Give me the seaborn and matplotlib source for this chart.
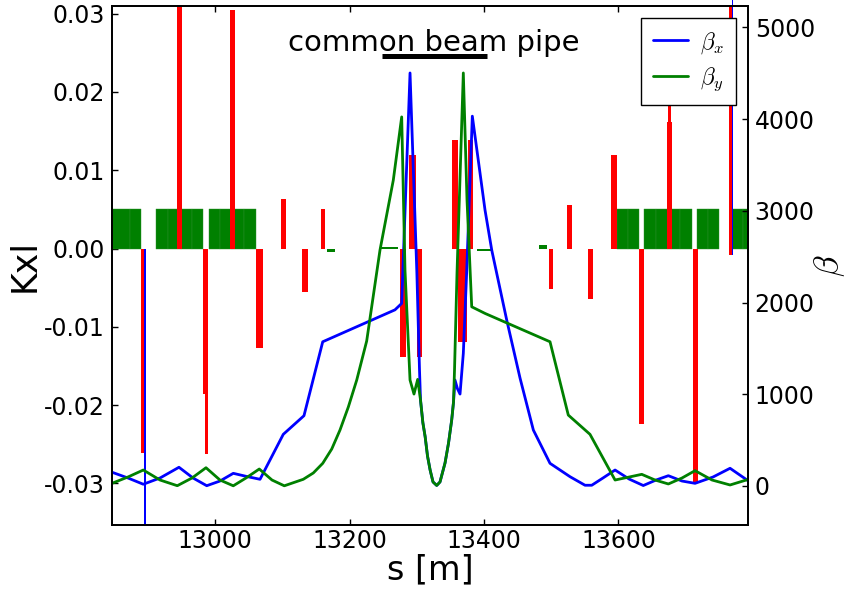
import matplotlib
matplotlib.use("Agg")
import matplotlib.pyplot as plt
from matplotlib.ticker import FormatStrFormatter
import seaborn as sns

# Quadrupole integrated strengths Kxl: centre s [m], length [m], value
quad_s = [12892.3, 12946.4, 12985.6, 12986.8, 13025.7, 13066.2, 13101.5, 13133.6,
          13160.4, 13279.5, 13293.9, 13304.0, 13356.4, 13368.0, 13379.9, 13499.4,
          13526.8, 13558.8, 13593.8, 13634.4, 13675.3, 13676.3, 13714.7, 13766.8,
          13766.8]
quad_len = [4.5, 7.4, 7.4, 4.9, 7.4, 10.0, 7.0, 8.0,
            6.0, 9.0, 11.0, 8.3, 9.0, 14.3, 8.3, 6.4,
            7.4, 7.4, 9.5, 6.5, 7.4, 5.2, 7.4, 6.0,
            5.0]
quad_kxl = [-0.0261, 0.0330, -0.0186, -0.0263, 0.0305, -0.0127, 0.0063, -0.0056,
            0.0051, -0.0139, 0.0120, -0.0139, 0.0139, -0.0120, 0.0139, -0.0052,
            0.0055, -0.0065, 0.0120, -0.0224, 0.0161, 0.0240, -0.0298, 0.0330,
            -0.0008]

# Arc dipoles (drawn as blocks of fixed height)
dip_start = [12838.0, 12873.7, 12911.5, 12930.5, 12949.6, 12965.9,
             12990.3, 13006.7, 13025.0, 13043.0,
             13598.4, 13614.7, 13638.5, 13656.0, 13674.0, 13692.0,
             13717.4, 13733.3, 13769.5, 13786.0]
dip_len = [35.7, 15.9, 19.0, 19.1, 16.3, 15.9,
           16.4, 18.3, 18.0, 18.2,
           16.3, 16.4, 17.5, 18.0, 18.0, 18.0,
           15.9, 16.4, 16.5, 16.5]
dip_height = 0.005

# Weak separation dipoles around the interaction region
sep_start = [13165.9, 13245.2, 13389.1, 13482.3]
sep_len = [12.4, 26.4, 22.3, 11.9]
sep_kxl = [-0.0004, 0.00025, -0.0003, 0.0004]

# Thin elements shown in blue
thin_s = [12895.5, 13770.2]
thin_bottom = [0.0, -0.0008]
thin_height = [-0.06, 0.0326]

# Horizontal beta function
bx_s = [12846.4, 12870.2, 12893.0, 12917.9, 12946.1, 12967.0, 12987.4, 13007.1,
        13026.9, 13047.3, 13066.7, 13101.3, 13132.1, 13160.0, 13267.5, 13277.5,
        13289.9, 13300.1, 13304.0, 13305.5, 13309.0, 13312.4, 13315.9, 13319.8,
        13324.1, 13329.6, 13334.5, 13342.0, 13347.2, 13351.9, 13354.6, 13356.8,
        13360.5, 13364.3, 13369.2, 13374.3, 13382.6, 13401.5, 13411.5, 13433.8,
        13453.6, 13473.4, 13498.2, 13528.0, 13550.3, 13560.3, 13577.0, 13595.0,
        13615.8, 13637.0, 13656.0, 13674.3, 13694.6, 13714.0, 13740.8, 13766.1,
        13792.4]
bx = [150, 87, 19, 87, 204, 87, 3, 54,
      138, 103, 73, 563, 766, 1572, 1920, 1990,
      4502, 2320, 1264, 937, 690, 537, 327, 174,
      44, 6, 44, 251, 468, 719, 915, 1155,
      1060, 1002, 1446, 2353, 4031, 3007, 2571, 1808,
      1176, 610, 247, 101, 8, 8, 87, 174,
      76, 5, 65, 112, 54, 29, 98, 193,
      60]

# Vertical beta function
by_s = [12846.4, 12870.2, 12893.0, 12917.9, 12943.6, 12965.5, 12986.3, 13007.1,
        13026.9, 13045.8, 13065.6, 13084.5, 13102.8, 13131.1, 13146.0, 13160.0,
        13173.4, 13185.7, 13198.1, 13210.6, 13225.4, 13245.2, 13265.0, 13277.5,
        13282.4, 13289.9, 13295.8, 13301.3, 13305.5, 13309.0, 13312.4, 13315.9,
        13319.8, 13324.1, 13329.6, 13334.5, 13342.0, 13347.2, 13351.9, 13354.6,
        13356.1, 13359.8, 13369.2, 13374.7, 13381.7, 13401.5, 13498.2, 13525.4,
        13557.7, 13595.0, 13634.7, 13654.5, 13674.3, 13694.6, 13714.0, 13739.3,
        13766.1, 13792.4]
by = [29, 98, 174, 65, 3, 87, 199, 65,
      2, 87, 185, 65, 2, 73, 142, 247,
      403, 610, 861, 1155, 1580, 2571, 3333, 4023,
      2353, 1155, 1002, 1162, 937, 690, 537, 327,
      174, 44, 6, 44, 251, 468, 719, 915,
      1264, 2320, 4502, 3115, 1953, 1881, 1572, 773,
      563, 65, 127, 65, 22, 87, 167, 65,
      11, 70]

x_ticks = [13000, 13200, 13400, 13600]
kxl_ticks = [-0.03, -0.02, -0.01, 0.00, 0.01, 0.02, 0.03]
beta_ticks = [0, 1000, 2000, 3000, 4000, 5000]

sns.set_style("ticks")
plt.rcParams.update({
    "font.family": ["DejaVu Sans"],
    "mathtext.fontset": "cm",
    "axes.unicode_minus": False,
    "text.color": "black",
    "axes.labelcolor": "black",
    "axes.edgecolor": "black",
    "xtick.color": "black",
    "ytick.color": "black",
    "axes.linewidth": 1.3,
    "xtick.direction": "in",
    "ytick.direction": "in",
    "xtick.major.size": 4.5,
    "ytick.major.size": 4.5,
    "xtick.major.width": 1.0,
    "ytick.major.width": 1.0,
})

fig = plt.figure(figsize=(8.47, 5.89), dpi=100)
ax = fig.add_axes([0.1322, 0.1087, 0.8828 - 0.1322, 0.9903 - 0.1087])

# element bars on the Kxl axis
ax.bar(dip_start, dip_height, width=dip_len, align="edge", color="#008000",
       edgecolor="#2f8f2f", linewidth=0.3, zorder=1)
ax.bar(sep_start, sep_kxl, width=sep_len, align="edge", color="#008000",
       linewidth=0, zorder=1)
ax.bar(quad_s, quad_kxl, width=quad_len, color="#ff0000", linewidth=0, zorder=2)
thin = ax.bar(thin_s, thin_height, width=1.8, bottom=thin_bottom, color="#0000ff",
              linewidth=0, zorder=3)
thin[1].set_clip_on(False)

# "common beam pipe" marker
ax.plot([13247.8, 13404.0], [0.02453, 0.02453], color="black", lw=3.6,
        solid_capstyle="butt", zorder=4)
ax.text(13325.6, 0.0263, "common beam pipe", ha="center", va="center",
        fontsize=21, color="black", zorder=4)

ax.set_xlim(12846.4, 13792.4)
ax.set_ylim(-0.0353, 0.0310)
ax.set_xticks(x_ticks)
ax.set_yticks(kxl_ticks)
ax.yaxis.set_major_formatter(FormatStrFormatter("%.2f"))
ax.tick_params(axis="x", top=True, labelsize=17, pad=3)
ax.tick_params(axis="y", left=True, right=False, labelsize=17, pad=5)
ax.set_xlabel("s [m]", fontsize=24, labelpad=0)
ax.set_ylabel("Kxl", fontsize=25, labelpad=2)

# beta functions on the twin axis
ax2 = ax.twinx()
sns.lineplot(x=bx_s, y=bx, ax=ax2, color="#0000ff", lw=2.0, label=r"$\beta_x$",
             estimator=None, sort=False)
sns.lineplot(x=by_s, y=by, ax=ax2, color="#008000", lw=2.0, label=r"$\beta_y$",
             estimator=None, sort=False)
ax2.set_ylim(-425, 5235)
ax2.set_yticks(beta_ticks)
ax2.tick_params(axis="y", right=True, left=False, labelsize=17, pad=5)
ax2.set_xlim(12846.4, 13792.4)
ax2.set_ylabel(r"$\beta$", fontsize=25, labelpad=-2)
ax2.set_xlabel("")

leg = ax2.legend(loc="upper right", fontsize=17, fancybox=False, framealpha=1,
                 edgecolor="black", handlelength=1.5, handletextpad=0.5,
                 borderpad=0.5, labelspacing=0.4)
leg.get_frame().set_linewidth(1.0)
for txt in leg.get_texts():
    txt.set_color("black")

for spine in ax2.spines.values():
    spine.set_linewidth(1.3)

fig.savefig("out.png", dpi=100)
